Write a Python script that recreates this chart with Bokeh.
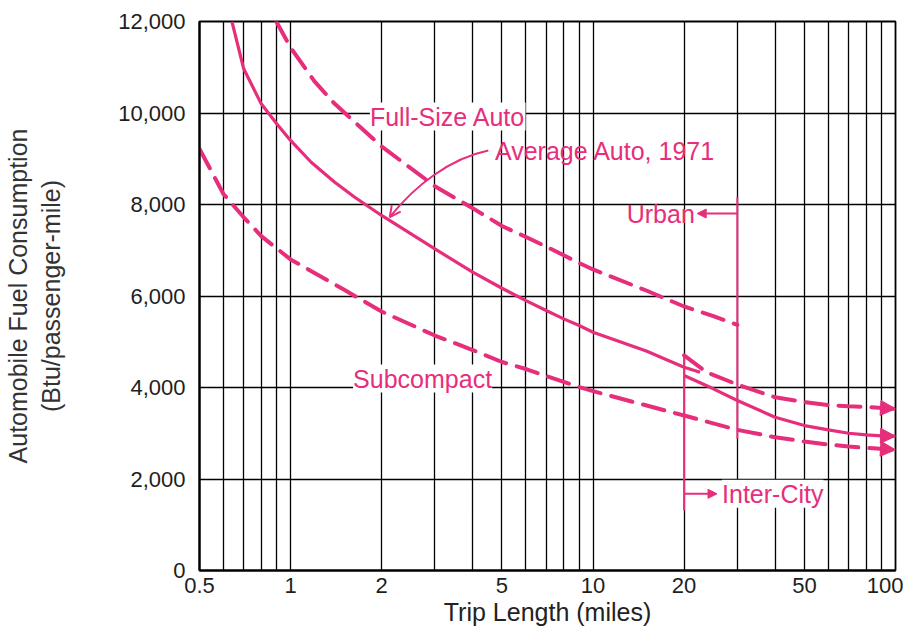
from bokeh.plotting import figure
from bokeh.models import (FixedTicker, NumeralTickFormatter, CustomJSTickFormatter,
                          Label, Arrow, NormalHead, OpenHead, Range1d)
from bokeh.embed import file_html
from bokeh.resources import INLINE

# ---------------- data ----------------
x_ticks = [0.5, 1, 2, 5, 10, 20, 50, 100]
x_grid = [0.5, 0.6, 0.7, 0.8, 0.9, 1, 2, 3, 4, 5, 6, 7, 8, 9, 10,
          20, 30, 40, 50, 60, 70, 80, 90, 100]
y_ticks = [0, 2000, 4000, 6000, 8000, 10000, 12000]

# Full-Size Auto (dashed): urban part and inter-city part
full_urban_x = [0.897, 1.0, 1.2, 1.4, 1.6, 2, 3, 4, 5, 6, 7, 8, 9, 10, 15, 20, 25, 30]
full_urban_y = [12000, 11430, 10690, 10200, 9850, 9270, 8400, 7920, 7530, 7290, 7080,
                6890, 6720, 6580, 6120, 5770, 5560, 5370]
full_inter_x = [20, 23.8, 30, 40, 50, 60, 70, 80, 100]
full_inter_y = [4700, 4330, 4065, 3787, 3682, 3617, 3590, 3573, 3534]

# Average Auto, 1971 (solid): urban part and inter-city part
avg_urban_x = [0.64, 0.7, 0.8, 0.9, 1.0, 1.17, 1.4, 1.63, 2, 3, 4, 5, 6, 7, 8, 9, 10,
               15, 20, 22.6]
avg_urban_y = [12000, 10966, 10200, 9764, 9400, 8924, 8487, 8159, 7760, 7030, 6520,
               6170, 5900, 5683, 5500, 5355, 5208, 4797, 4443, 4334]
avg_inter_x = [20, 25, 30, 40, 50, 60, 70, 80, 90, 100]
avg_inter_y = [4262, 3971, 3715, 3350, 3168, 3074, 3000, 2965, 2943, 2935]

# Subcompact (dashed)
sub_x = [0.5, 0.6, 0.7, 0.8, 0.9, 1.0, 1.5, 2, 3, 4, 5, 6, 7, 8, 9, 10,
         20, 30, 40, 50, 60, 70, 80, 100]
sub_y = [9217, 8230, 7720, 7310, 7040, 6800, 6140, 5661, 5136, 4819, 4557, 4404,
         4251, 4124, 4010, 3920, 3387, 3074, 2913, 2819, 2753, 2710, 2681, 2637]

urban_limit = 30          # miles: end of the urban range
intercity_start = 20      # miles: start of the inter-city range

PINK = "#E62E7B"
FONT = "Liberation Sans"

p = figure(x_axis_type="log", x_range=Range1d(0.5, 100), y_range=Range1d(0, 12000),
           width=903, height=632,
           min_border_left=199, min_border_right=8, min_border_top=21, min_border_bottom=62,
           output_backend="svg", toolbar_location=None)
p.background_fill_color = "white"
p.border_fill_color = "white"
p.outline_line_color = "black"
p.outline_line_width = 1.8
p.outline_line_alpha = 1.0

# grids
p.xgrid.ticker = FixedTicker(ticks=x_grid)
p.ygrid.ticker = FixedTicker(ticks=y_ticks)
for g in (p.xgrid, p.ygrid):
    g.grid_line_color = "black"
    g.grid_line_width = 1.3
    g.grid_line_alpha = 1.0

# axes
p.xaxis.ticker = FixedTicker(ticks=x_ticks)
p.xaxis.formatter = CustomJSTickFormatter(code="return tick.toString();")
p.yaxis.ticker = FixedTicker(ticks=y_ticks)
p.yaxis.formatter = NumeralTickFormatter(format="0,0")
for ax in (p.xaxis, p.yaxis):
    ax.major_tick_out = 0
    ax.major_tick_in = 0
    ax.minor_tick_out = 0
    ax.minor_tick_in = 0
    ax.axis_line_width = 2.2
    ax.axis_line_color = "black"
    ax.major_label_text_font = FONT
    ax.major_label_text_font_size = "22px"
    ax.major_label_text_color = "#1e1e1e"
    ax.axis_label_text_font = FONT
    ax.axis_label_text_font_style = "normal"
p.xaxis.major_label_standoff = 7
p.yaxis.major_label_standoff = 14

p.yaxis.axis_label = "Automobile Fuel Consumption\n(Btu/passenger-mile)"
p.yaxis.axis_label_text_font_size = "25px"
p.yaxis.axis_label_text_color = "#333333"
p.yaxis.axis_label_standoff = 50

p.xaxis.axis_label = "Trip Length (miles)"
p.xaxis.axis_label_text_font_size = "25px"
p.xaxis.axis_label_text_color = "#222222"
p.xaxis.axis_label_standoff = 2

# curves
dash = dict(color=PINK, line_width=4, line_dash="22 11", line_cap="round")
p.line(full_urban_x, full_urban_y, **dash)
p.line(full_inter_x, full_inter_y, **dash)
p.line(sub_x, sub_y, **dash)
p.line(avg_urban_x, avg_urban_y, color=PINK, line_width=3.2)
p.line(avg_inter_x, avg_inter_y, color=PINK, line_width=3.2)

# arrow heads at the inter-city curve ends
for xs, ys in ((full_inter_x, full_inter_y), (avg_inter_x, avg_inter_y), (sub_x, sub_y)):
    p.add_layout(Arrow(end=NormalHead(size=15, fill_color=PINK, line_color=PINK),
                       x_start=xs[-2], y_start=ys[-2], x_end=xs[-1], y_end=ys[-1],
                       line_alpha=0))

# range brackets
p.segment(x0=[urban_limit], y0=[8159], x1=[urban_limit], y1=[2878], color=PINK, line_width=2)
p.segment(x0=[intercity_start], y0=[4736], x1=[intercity_start], y1=[1311], color=PINK, line_width=2)
p.add_layout(Arrow(end=NormalHead(size=9, fill_color=PINK, line_color=PINK),
                   x_start=urban_limit, y_start=7803, x_end=22.1, y_end=7803,
                   line_color=PINK, line_width=2))
p.add_layout(Arrow(end=NormalHead(size=9, fill_color=PINK, line_color=PINK),
                   x_start=intercity_start, y_start=1676, x_end=25.7, y_end=1676,
                   line_color=PINK, line_width=2))

# curved leader for "Average Auto, 1971"
p.bezier(x0=[4.505], y0=[9180], x1=[2.128], y1=[7722], cx0=[3.364], cy0=[9005],
         cx1=[2.575], cy1=[8415], line_color=PINK, line_width=2)
p.add_layout(Arrow(end=OpenHead(size=11, line_color=PINK, line_width=2),
                   x_start=2.333, y_start=8087, x_end=2.128, y_end=7722, line_alpha=0))


def lab(x, y, text, align="left", bg=None):
    l = Label(x=x, y=y, text=text, text_align=align, text_baseline="middle",
              text_font=FONT, text_font_size="25px", text_color=PINK)
    if bg:
        l.background_fill_color = bg
    p.add_layout(l)


lab(1.83, 9923, "Full-Size Auto", bg="white")
lab(4.74, 9180, "Average Auto, 1971")
lab(21.7, 7803, "Urban", align="right")
lab(1.61, 4196, "Subcompact", bg="white")
lab(26.7, 1676, "Inter-City", bg="white")

open("out.html", "w").write(file_html(p, INLINE))
